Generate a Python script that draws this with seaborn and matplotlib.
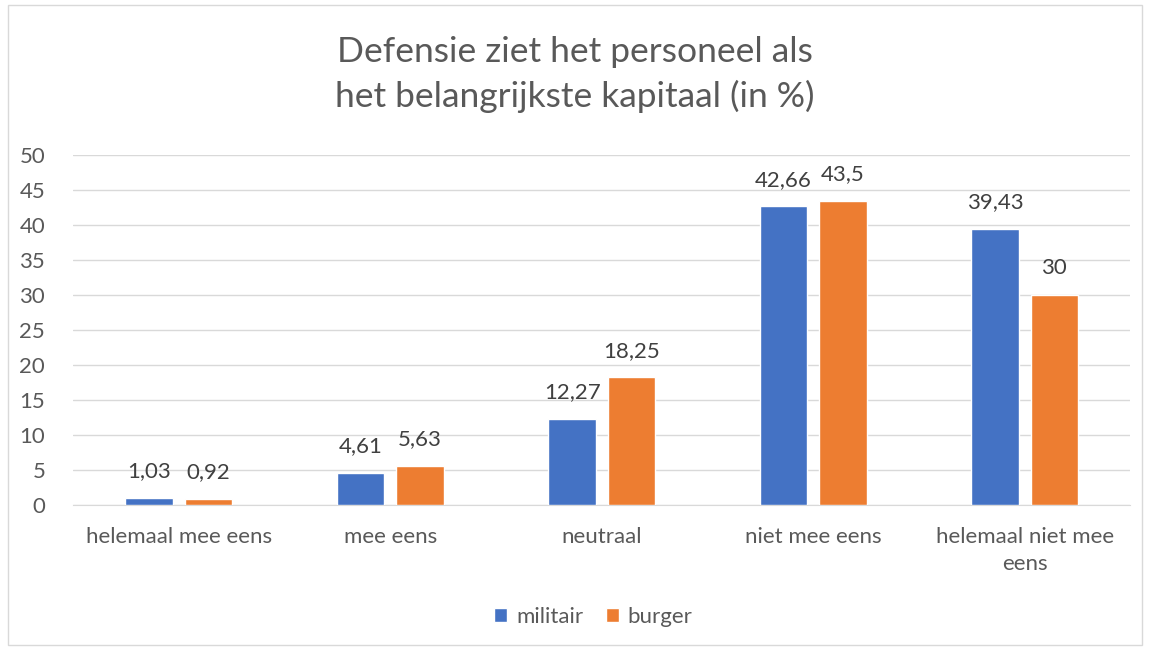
import pandas as pd
import seaborn as sns
import matplotlib.pyplot as plt
from matplotlib.patches import Rectangle

categorieen = ["helemaal mee eens", "mee eens", "neutraal", "niet mee eens", "helemaal niet mee\neens"]
militair = [1.03, 4.61, 12.27, 42.66, 39.43]
burger = [0.92, 5.63, 18.25, 43.5, 30]
reeksen = ["militair", "burger"]
kleuren = ["#4472C4", "#ED7D31"]

df = pd.DataFrame({
    "categorie": categorieen * 2,
    "reeks": ["militair"] * len(categorieen) + ["burger"] * len(categorieen),
    "waarde": militair + burger,
})

sns.set_style("white")
plt.rcParams["font.family"] = ["Lato", "DejaVu Sans"]
tekst = "#595959"

fig = plt.figure(figsize=(11.5, 6.5), dpi=100)
fig.patches.append(Rectangle((0.007, 0.008), 0.986, 0.984, transform=fig.transFigure,
                             fill=False, edgecolor="#D9D9D9", linewidth=1))
ax = fig.add_axes([0.0635, 0.223, 0.9195, 0.5385])

sns.barplot(data=df, x="categorie", y="waarde", hue="reeks", hue_order=reeksen,
            palette=kleuren, width=0.56, gap=0.2, ax=ax, saturation=1, zorder=3)

for cont in ax.containers:
    labels = [f"{v:g}".replace(".", ",") for v in cont.datavalues]
    ax.bar_label(cont, labels=labels, padding=12, fontsize=16, color="#404040")

ax.set_ylim(0, 50)
ax.set_yticks(range(0, 51, 5))
ax.grid(axis="y", color="#D9D9D9", linewidth=1, zorder=0)
ax.set_xlabel("")
ax.set_ylabel("")
for s in ["top", "right", "left"]:
    ax.spines[s].set_visible(False)
ax.spines["bottom"].set_color("#D9D9D9")
ax.tick_params(axis="both", length=0, labelsize=16, colors=tekst)
ax.tick_params(axis="x", pad=16)
ax.tick_params(axis="y", pad=20)
for lbl in ax.get_xticklabels():
    lbl.set_linespacing(1.4)

fig.suptitle("Defensie ziet het personeel als\nhet belangrijkste kapitaal (in %)",
             y=0.945, fontsize=25.5, color=tekst, linespacing=1.45)

ax.legend(loc="center", bbox_to_anchor=(0.492, -0.32), ncol=2, frameon=False,
          fontsize=16, handlelength=0.6, handleheight=0.6, columnspacing=1.0,
          handletextpad=0.4, labelcolor=tekst)

fig.savefig("out.png", dpi=100)
